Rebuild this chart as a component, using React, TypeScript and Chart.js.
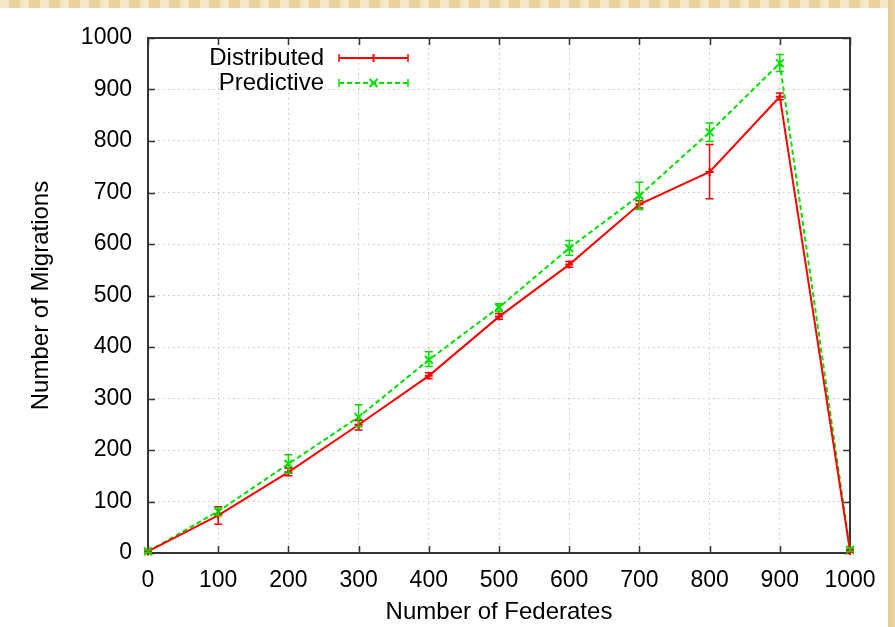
import React, { useEffect, useRef } from "react";
import { Chart, registerables } from "chart.js";

Chart.register(...registerables);

const federates = [0, 100, 200, 300, 400, 500, 600, 700, 800, 900, 1000];
const distributed = [3, 73, 157, 249, 344, 459, 560, 677, 740, 886, 4];
const distributedLow = [1, 56, 150, 239, 339, 454, 555, 670, 688, 880, 2];
const distributedHigh = [5, 90, 165, 258, 350, 465, 566, 684, 793, 893, 7];
const predictive = [3, 81, 173, 264, 375, 477, 592, 694, 817, 951, 6];
const predictiveLow = [1, 73, 155, 245, 362, 469, 578, 667, 799, 935, 3];
const predictiveHigh = [6, 88, 191, 288, 391, 484, 607, 720, 835, 968, 10];
const seriesNames = ["Distributed", "Predictive"];
const xTitle = "Number of Federates";
const yTitle = "Number of Migrations";

const FONT = "'Liberation Sans', Arial, Helvetica, sans-serif";
const RED = "#ff0000";
const GREEN = "#00e000";

const backgroundPlugin = {
  id: "bg",
  beforeDraw(chart: any) {
    const { ctx, width, height } = chart;
    ctx.save();
    ctx.fillStyle = "#e9d29c";
    ctx.fillRect(0, 0, width, height);
    for (let x = 0; x < width; x += 20) {
      ctx.fillStyle = "#f4e7c4";
      ctx.fillRect(x, 0, 9, 8);
    }
    const g = ctx.createLinearGradient(888, 0, width, 0);
    g.addColorStop(0, "#e6cb90");
    g.addColorStop(1, "#ead5a2");
    ctx.fillStyle = g;
    ctx.fillRect(888, 0, width - 888, height);
    ctx.fillStyle = "#ffffff";
    ctx.fillRect(0, 8, 888, height - 8);
    ctx.restore();
  },
};

const framePlugin = {
  id: "frame",
  beforeDatasetsDraw(chart: any) {
    const { ctx, chartArea } = chart;
    const { left, right, top, bottom } = chartArea;
    const xs = chart.scales.x;
    const ys = chart.scales.y;
    ctx.save();
    ctx.strokeStyle = "#333333";
    ctx.lineWidth = 1.5;
    ctx.beginPath();
    const tl = 7;
    xs.ticks.forEach((t: any) => {
      const px = Math.round(xs.getPixelForValue(t.value)) + 0.5;
      ctx.moveTo(px, bottom);
      ctx.lineTo(px, bottom - tl);
      ctx.moveTo(px, top);
      ctx.lineTo(px, top + tl);
    });
    ys.ticks.forEach((t: any) => {
      const py = Math.round(ys.getPixelForValue(t.value)) + 0.5;
      ctx.moveTo(left, py);
      ctx.lineTo(left + tl, py);
      ctx.moveTo(right, py);
      ctx.lineTo(right - tl, py);
    });
    ctx.stroke();
    ctx.lineWidth = 2;
    ctx.strokeRect(left, top, right - left, bottom - top);
    ctx.restore();
  },
};

const errorBarPlugin = {
  id: "errbars",
  afterDatasetsDraw(chart: any) {
    const { ctx } = chart;
    const xs = chart.scales.x;
    const ys = chart.scales.y;
    const sets = [
      { low: distributedLow, high: distributedHigh, color: RED },
      { low: predictiveLow, high: predictiveHigh, color: GREEN },
    ];
    ctx.save();
    ctx.lineWidth = 1.5;
    sets.forEach((s) => {
      ctx.strokeStyle = s.color;
      ctx.beginPath();
      federates.forEach((f, i) => {
        const px = xs.getPixelForValue(f);
        const yl = ys.getPixelForValue(s.low[i]);
        const yh = ys.getPixelForValue(s.high[i]);
        ctx.moveTo(px, yl);
        ctx.lineTo(px, yh);
        ctx.moveTo(px - 4, yl);
        ctx.lineTo(px + 4, yl);
        ctx.moveTo(px - 4, yh);
        ctx.lineTo(px + 4, yh);
      });
      ctx.stroke();
    });
    ctx.restore();
  },
};

const legendPlugin = {
  id: "innerLegend",
  afterDraw(chart: any) {
    const { ctx } = chart;
    const textRight = 324;
    const x0 = 339;
    const x1 = 408;
    const xm = (x0 + x1) / 2;
    const rows = [
      { name: seriesNames[0], color: RED, dash: [] as number[], y: 58, marker: "plus" },
      { name: seriesNames[1], color: GREEN, dash: [5, 3], y: 83, marker: "x" },
    ];
    ctx.save();
    rows.forEach((r) => {
      ctx.fillStyle = "#000";
      ctx.font = `24px ${FONT}`;
      ctx.textAlign = "right";
      ctx.textBaseline = "middle";
      ctx.fillText(r.name, textRight, r.y);
      ctx.strokeStyle = r.color;
      ctx.lineWidth = 2;
      ctx.setLineDash(r.dash);
      ctx.beginPath();
      ctx.moveTo(x0, r.y);
      ctx.lineTo(x1, r.y);
      ctx.stroke();
      ctx.setLineDash([]);
      ctx.lineWidth = 1.5;
      ctx.beginPath();
      ctx.moveTo(x0, r.y - 4);
      ctx.lineTo(x0, r.y + 4);
      ctx.moveTo(x1, r.y - 4);
      ctx.lineTo(x1, r.y + 4);
      ctx.stroke();
      ctx.lineWidth = 2;
      ctx.beginPath();
      if (r.marker === "plus") {
        ctx.moveTo(xm - 4, r.y);
        ctx.lineTo(xm + 4, r.y);
        ctx.moveTo(xm, r.y - 4);
        ctx.lineTo(xm, r.y + 4);
      } else {
        ctx.moveTo(xm - 4, r.y - 4);
        ctx.lineTo(xm + 4, r.y + 4);
        ctx.moveTo(xm - 4, r.y + 4);
        ctx.lineTo(xm + 4, r.y - 4);
      }
      ctx.stroke();
    });
    ctx.restore();
  },
};

export default function App() {
  const ref = useRef<HTMLCanvasElement | null>(null);

  useEffect(() => {
    if (!ref.current) return;
    const tickFont = { family: FONT, size: 23 };
    const titleFont = { family: FONT, size: 24 };
    const chart = new Chart(ref.current, {
      type: "line",
      data: {
        datasets: [
          {
            label: seriesNames[0],
            data: federates.map((x, i) => ({ x, y: distributed[i] })),
            borderColor: RED,
            backgroundColor: RED,
            pointBorderColor: RED,
            borderWidth: 2,
            pointStyle: "cross",
            pointRadius: 4,
            pointBorderWidth: 2,
            tension: 0,
            clip: false,
          } as any,
          {
            label: seriesNames[1],
            data: federates.map((x, i) => ({ x, y: predictive[i] })),
            borderColor: GREEN,
            backgroundColor: GREEN,
            pointBorderColor: GREEN,
            borderWidth: 2,
            borderDash: [5, 3],
            pointStyle: "crossRot",
            pointRadius: 5.5,
            pointBorderWidth: 2,
            tension: 0,
            clip: false,
          } as any,
        ],
      },
      options: {
        animation: false,
        responsive: false,
        devicePixelRatio: 1,
        layout: { padding: { left: 0, top: 38, right: 45, bottom: 0 } },
        plugins: { legend: { display: false }, tooltip: { enabled: false } },
        scales: {
          x: {
            type: "linear",
            min: 0,
            max: 1000,
            ticks: {
              stepSize: 100,
              color: "#000",
              font: tickFont,
              padding: 14,
              maxRotation: 0,
              autoSkip: false,
              callback: (v: any) => String(v),
            },
            grid: { color: "#c4c4c4", lineWidth: 1, drawTicks: false },
            border: { display: false, dash: [1.5, 3.5] },
            title: {
              display: true,
              text: xTitle,
              color: "#000",
              font: titleFont,
              padding: { top: 0, bottom: 0 },
            },
            afterFit: (s: any) => {
              s.height = 74;
            },
          },
          y: {
            type: "linear",
            min: 0,
            max: 1000,
            ticks: {
              stepSize: 100,
              color: "#000",
              font: tickFont,
              padding: 16,
              autoSkip: false,
              callback: (v: any) => String(v),
            },
            grid: { color: "#c4c4c4", lineWidth: 1, drawTicks: false },
            border: { display: false, dash: [1.5, 3.5] },
            title: {
              display: true,
              text: yTitle,
              color: "#000",
              font: titleFont,
              padding: { top: 27, bottom: 0 },
            },
            afterFit: (s: any) => {
              s.width = 148;
            },
          },
        },
      } as any,
      plugins: [backgroundPlugin, framePlugin, errorBarPlugin, legendPlugin],
    });
    return () => chart.destroy();
  }, []);

  return (
    <canvas
      ref={ref}
      width={895}
      height={627}
      style={{ position: "absolute", left: 0, top: 0, width: 895, height: 627 }}
    />
  );
}
